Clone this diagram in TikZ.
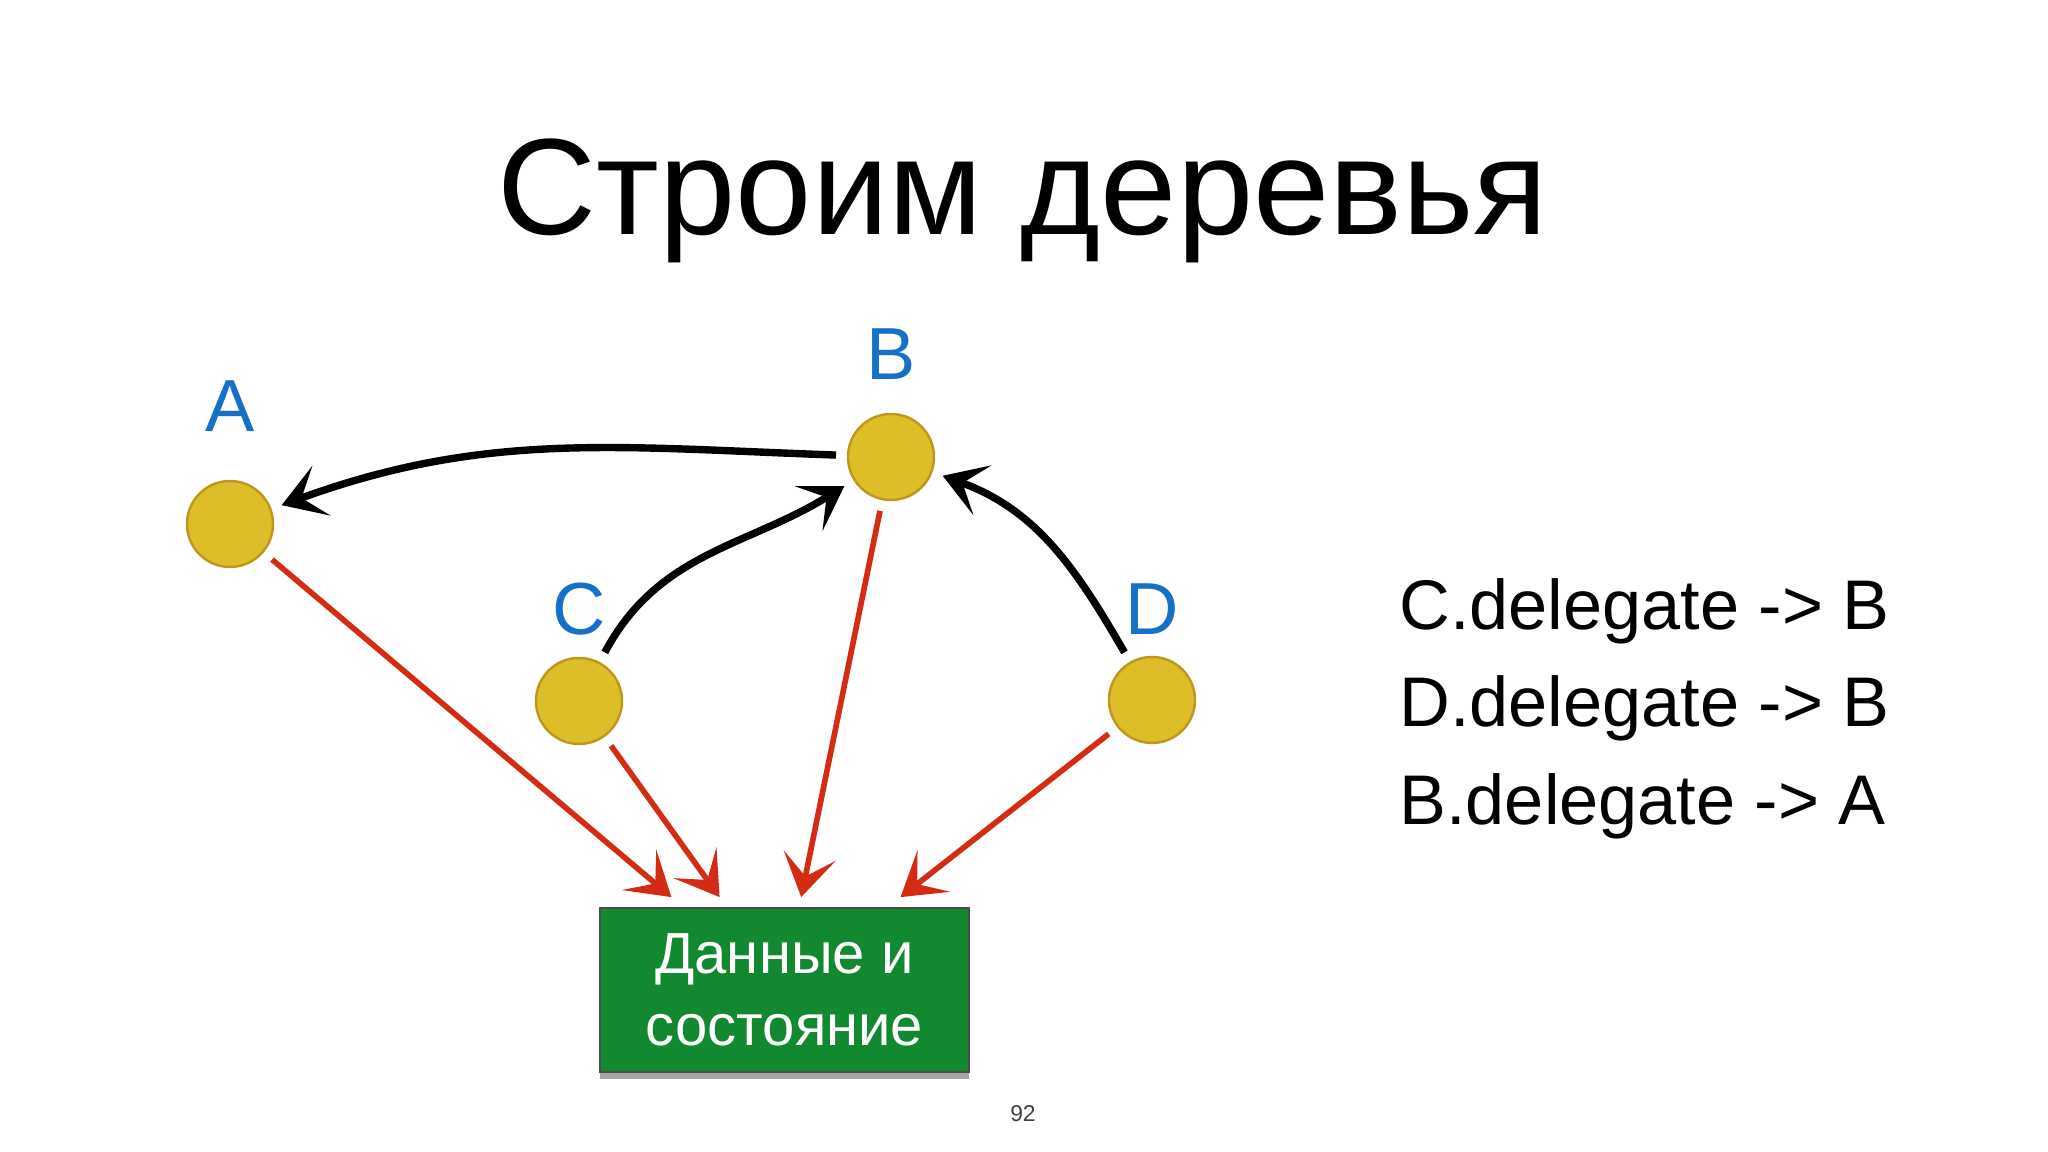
\documentclass[tikz,border=0pt]{standalone}
\usepackage{fontspec}
\setmainfont{Liberation Sans}
\usepackage{tikz}
\usetikzlibrary{arrows.meta, positioning, calc, shadows}
\usepackage{xcolor}
\definecolor{dotgold}{RGB}{222,190,40}
\definecolor{dotrim}{RGB}{190,152,30}
\definecolor{lblblue}{RGB}{22,112,200}
\definecolor{datagreen}{RGB}{18,137,48}
\definecolor{linkred}{RGB}{212,44,20}

\begin{document}
\begin{tikzpicture}[
    dot/.style={circle, fill=dotgold, draw=dotrim, line width=0.7pt, minimum size=0.86cm, inner sep=0pt, outer sep=0.12cm},
    letter/.style={text=lblblue, font=\fontsize{21}{25}\selectfont},
    delegline/.style={line width=2.1pt, -{Stealth[length=12pt, width=15pt, inset=6pt]}},
    datalink/.style={linkred, line width=1.6pt, -{Stealth[length=12pt, width=15pt, inset=6pt]}},
    statement/.style={anchor=base west, font=\fontsize{20}{24}\selectfont},
    store/.style={rectangle, fill=datagreen, draw=black!70, line width=0.5pt, text=white, align=center,
        minimum width=3.69cm, minimum height=1.64cm, font=\fontsize{16.5}{20.5}\selectfont,
        drop shadow={shadow xshift=0pt, shadow yshift=-2pt, opacity=0.35, fill=black}}
]
    \useasboundingbox (0,0) rectangle (20.48,11.52);

    \node[anchor=base, font=\fontsize{39}{47}\selectfont] (title) at (10.23,9.17) {Строим деревья};

    \node[dot] (A) at (2.30,6.28) {};
    \node[dot] (B) at (8.91,6.95) {};
    \node[dot] (C) at (5.79,4.51) {};
    \node[dot] (D) at (11.52,4.52) {};

    \node[letter] (labA) at (2.30,7.46) {A};
    \node[letter] (labB) at (8.91,7.98) {B};
    \node[letter] (labC) at (5.79,5.43) {C};
    \node[letter] (labD) at (11.52,5.43) {D};

    \node[store] (box) at (7.845,1.62) {Данные и\\состояние};

    \coordinate (inA) at ($(box.north west)!0.195!(box.north east)+(0,0.1)$);
    \coordinate (inC) at ($(box.north west)!0.325!(box.north east)+(0,0.1)$);
    \coordinate (inB) at ($(box.north west)!0.545!(box.north east)+(0,0.1)$);
    \coordinate (inD) at ($(box.north west)!0.813!(box.north east)+(0,0.1)$);

    \draw[delegline] (B) to[out=178, in=20] (A);
    \draw[delegline] (C) to[out=62, in=212] (B);
    \draw[delegline] (D) to[out=120, in=-20] (B);

    \draw[datalink] (A) -- (inA);
    \draw[datalink] (C) -- (inC);
    \draw[datalink] (B) -- (inB);
    \draw[datalink] (D) -- (inD);

    \node[statement] (rule1) at (13.87,5.22) {C.delegate -> B};
    \node[statement] (rule2) at (13.87,4.25) {D.delegate -> B};
    \node[statement] (rule3) at (13.87,3.27) {B.delegate -> A};

    \node[font=\fontsize{6.5}{8}\selectfont, text=black!75] (page) at (10.23,0.38) {92};
\end{tikzpicture}
\end{document}
